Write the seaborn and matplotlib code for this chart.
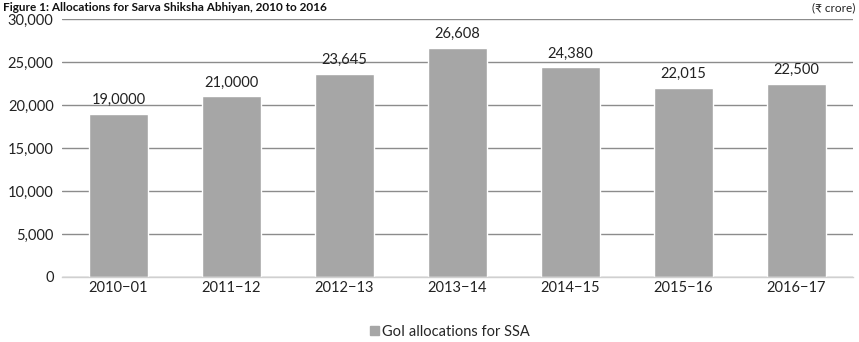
import matplotlib
matplotlib.use("Agg")
import matplotlib.pyplot as plt
import seaborn as sns
import pandas as pd
from matplotlib.ticker import FuncFormatter
from matplotlib.patches import Patch

years = ["2010\u221201", "2011\u221212", "2012\u221213", "2013\u221214", "2014\u221215", "2015\u221216", "2016\u221217"]
values = [19000, 21000, 23645, 26608, 24380, 22015, 22500]
labels = ["19,0000", "21,0000", "23,645", "26,608", "24,380", "22,015", "22,500"]
series_name = "GoI allocations for SSA"
title = "Figure 1: Allocations for Sarva Shiksha Abhiyan, 2010 to 2016"
unit = "(\u20b9 crore)"

df = pd.DataFrame({"year": years, "value": values})

sns.set_theme(style="white")
plt.rcParams['font.family'] = ['Lato', 'DejaVu Sans']

fig = plt.figure(figsize=(8.59, 3.42), dpi=100)
top_px = 19
ax = fig.add_axes([62/859, 1 - 277/342, (853-62)/859, (277-top_px)/342])

bar_color = "#a6a6a6"
sns.barplot(data=df, x="year", y="value", color=bar_color, width=0.52, ax=ax, saturation=1)

ax.set_ylim(0, 30000)
ax.set_yticks(range(0, 30001, 5000))
ax.yaxis.set_major_formatter(FuncFormatter(lambda v, p: f"{int(v):,}"))
ax.grid(axis="y", color="#8c8c8c", linewidth=1.0)
ax.set_axisbelow(True)
for s in ["top", "right", "left"]:
    ax.spines[s].set_visible(False)
ax.spines["bottom"].set_color("#d0d0d0")
ax.spines["bottom"].set_linewidth(1.0)
ax.set_xlabel("")
ax.set_ylabel("")
ax.tick_params(axis="both", labelsize=10.5, colors="#222222", length=0)
ax.tick_params(axis="y", pad=6)
ax.tick_params(axis="x", pad=3)
ax.set_xlim(-0.5, len(years) - 0.5)

for i, (v, lab) in enumerate(zip(values, labels)):
    ax.text(i, v + 800, lab, ha="center", va="bottom", fontsize=10.5, color="#222222")

fig.text(3/859, 1 - 2/342, title, fontsize=8.5, fontweight="bold", ha="left", va="top", color="#111111")
fig.text(855/859, 1 - 2/342, unit, fontsize=8.5, ha="right", va="top", color="#222222")

fig.legend(handles=[Patch(color=bar_color, label=series_name)], loc="center",
           bbox_to_anchor=(450/859, 1 - 332/342), frameon=False, fontsize=10.5,
           handlelength=0.6, handleheight=0.6, handletextpad=0.2)

fig.savefig("out.png", dpi=100)
